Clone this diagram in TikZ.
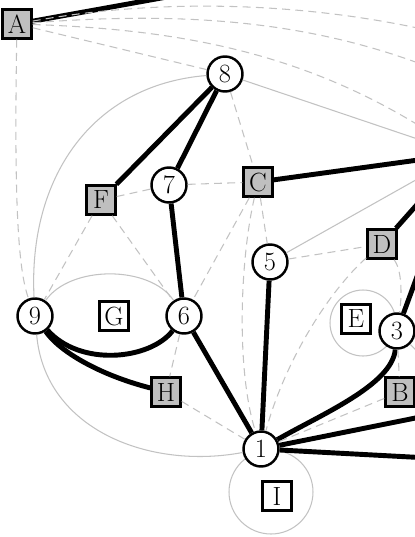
\documentclass[tikz,border=0pt]{standalone}
\usepackage{tikz}
\definecolor{edgeGray}{HTML}{C2C2C2}
\definecolor{faceGray}{HTML}{BFBFBF}
\newcommand{\nodeFont}{\fontsize{15}{18}\selectfont}

\begin{document}
\begin{tikzpicture}[x=0.02cm, y=-0.02cm,
    vertexNode/.style={circle, draw, fill=white, line width=\borderW pt, minimum size=\circSize cm, inner sep=0pt, font=\nodeFont},
    faceNode/.style={rectangle, draw, fill=white, line width=\borderW pt, minimum size=\boxSize cm, inner sep=0pt, font=\nodeFont},
    grayFace/.style={faceNode, fill=faceGray},
    thickEdge/.style={line width=\thickW pt},
    grayEdge/.style={draw=edgeGray, line width=\thinW pt},
    dashEdge/.style={grayEdge, dash pattern=on 4.5pt off 3pt}]
            % --- PARAMETRY ---
            \pgfmathsetmacro{\thickW}{2.8}     % Grubość czarnych krawędzi [pt]
            \pgfmathsetmacro{\thinW}{0.6}      % Grubość szarych krawędzi [pt]
            \pgfmathsetmacro{\borderW}{1.4}    % Obwódka węzłów [pt]
            \pgfmathsetmacro{\circSize}{0.7}   % Średnica kółek [cm]
            \pgfmathsetmacro{\boxSize}{0.58}   % Bok kwadratów [cm]

            % Kadr (graf wychodzi poza ramkę)
            \useasboundingbox (0,0) rectangle (415,537);
            \clip (0,0) rectangle (415,537);

            % Pętle (pod węzłami)
            \draw[grayEdge] (363,323) circle[radius=0.66cm];
            \draw[grayEdge] (271,492) circle[radius=0.84cm];

            % --- WĘZŁY ---
            \node[grayFace] (A) at (17,24) {A};
            \node[vertexNode] (v8) at (225,74) {8};
            \node[vertexNode] (v7) at (169,185) {7};
            \node[grayFace] (F) at (101,200) {F};
            \node[grayFace] (C) at (258,182) {C};
            \node[vertexNode] (v5) at (270,262) {5};
            \node[grayFace] (D) at (382,244) {D};
            \node[vertexNode] (v9) at (35,316) {9};
            \node[faceNode] (G) at (114,316) {G};
            \node[vertexNode] (v6) at (184,316) {6};
            \node[faceNode] (E) at (356,319) {E};
            \node[vertexNode] (v3) at (397,331) {3};
            \node[grayFace] (H) at (166,392) {H};
            \node[grayFace] (B) at (400,392) {B};
            \node[vertexNode] (v1) at (261,449) {1};
            \node[faceNode] (I) at (277,496) {I};

            % Punkty poza kadrem
            \coordinate (hubR) at (462,154);
            \coordinate (offTop) at (400,-45);
            \coordinate (offA1) at (560,70);
            \coordinate (offA2) at (520,110);
            \coordinate (offR1) at (560,389);
            \coordinate (offR2) at (560,465);
            \coordinate (offR3) at (470,405);

            % --- KRAWĘDZIE CZARNE ---
            \draw[thickEdge] (A) -- (offTop);
            \draw[thickEdge] (v8) -- (F);
            \draw[thickEdge] (v8) -- (v7);
            \draw[thickEdge] (v7) -- (v6);
            \draw[thickEdge] (v9) .. controls (80,367) and (150,360) .. (v6);
            \draw[thickEdge] (v9) .. controls (60,352) and (100,375) .. (H);
            \draw[thickEdge] (v6) -- (v1);
            \draw[thickEdge] (v5) -- (v1);
            \draw[thickEdge] (C) -- (hubR);
            \draw[thickEdge] (D) -- (hubR);
            \draw[thickEdge] (v3) -- (hubR);
            \draw[thickEdge] (v1) .. controls (320,415) and (392,385) .. (v3);
            \draw[thickEdge] (v1) -- (offR1);
            \draw[thickEdge] (v1) -- (offR2);

            % --- KRAWĘDZIE SZARE ---
            \draw[grayEdge] (v8) .. controls (90,85) and (28,180) .. (v9);
            \draw[grayEdge] (v9) .. controls (70,265) and (150,265) .. (v6);
            \draw[grayEdge] (v9) .. controls (45,430) and (150,470) .. (v1);
            \draw[grayEdge] (v8) -- (hubR);
            \draw[grayEdge] (v5) -- (hubR);
            \draw[grayEdge] (v3) -- (offR3);

            % --- KRAWĘDZIE PRZERYWANE ---
            \draw[dashEdge] (A) .. controls (14,200) and (18,270) .. (v9);
            \draw[dashEdge] (A) -- (v8);
            \draw[dashEdge] (A) .. controls (180,-6) and (380,0) .. (offA1);
            \draw[dashEdge] (A) .. controls (200,10) and (360,20) .. (offA2);
            \draw[dashEdge] (A) .. controls (200,30) and (330,60) .. (hubR);
            \draw[dashEdge] (v8) -- (C);
            \draw[dashEdge] (v7) -- (C);
            \draw[dashEdge] (F) -- (v7);
            \draw[dashEdge] (F) -- (v9);
            \draw[dashEdge] (F) -- (v6);
            \draw[dashEdge] (C) -- (v6);
            \draw[dashEdge] (C) .. controls (240,260) and (236,370) .. (v1);
            \draw[dashEdge] (C) -- (v5);
            \draw[dashEdge] (v5) -- (D);
            \draw[dashEdge] (D) .. controls (330,290) and (285,360) .. (v1);
            \draw[dashEdge] (D) .. controls (402,270) and (402,295) .. (v3);
            \draw[dashEdge] (v3) -- (B);
            \draw[dashEdge] (B) -- (v1);
            \draw[dashEdge] (v6) -- (H);
            \draw[dashEdge] (H) -- (v1);
        \end{tikzpicture}
\end{document}
